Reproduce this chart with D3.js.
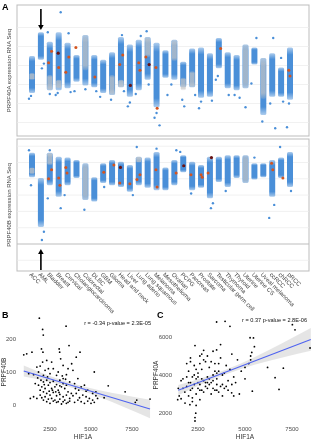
<!DOCTYPE html>
<html><head><meta charset="utf-8">
<script src="https://cdn.jsdelivr.net/npm/d3@7"></script>
<style>body{margin:0;background:#fff}svg{display:block;font-family:"Liberation Sans",Arial,sans-serif}</style>
</head><body><svg id="c" width="317" height="440"></svg>
<script>
// ---------- DATA ----------
const categories = ["ACC","AML","Bladder","Breast","Cervical","Cholangiocarcinoma","Colorectal","DLBC","GBM","Glioma","Head and neck","Liver","Lung adeno","Lung squamous","Melanoma","Mesothelioma","Ovarian","PCPG","Pancreas","Prostate","Sarcoma","Testicular germ cell","Thymoma","Thyroid","Uterine","Uterine CS","Uveal melanoma","ccRCC","chRCC","pRCC"];

// PRPF40A: dense range of tumour samples per cancer type [low, high]
const prpf40aRange = [[5.1,9.0],[8.6,11.5],[5.4,10.5],[5.4,11.5],[5.6,10.4],[6.3,9.1],[5.9,11.2],[5.7,9.1],[5.1,8.6],[4.9,9.4],[5.7,11.0],[4.7,10.2],[5.4,10.7],[6.5,11.0],[3.6,10.4],[6.7,9.6],[6.5,10.7],[5.7,8.4],[5.7,9.8],[4.6,9.9],[4.7,9.3],[7.7,10.9],[5.6,9.4],[5.4,9.1],[5.6,10.2],[8.1,9.9],[2.8,8.8],[4.7,9.3],[4.7,7.8],[4.4,9.9]];
// normal samples (grey) range
const prpf40aNormal = [[6.5,7.2],null,[5.4,7.0],[5.6,6.5],null,null,[7.5,11.2],null,null,[4.9,7.0],[5.7,6.5],null,null,[8.9,11.0],null,null,[8.5,10.7],[5.4,6.7],[5.7,7.4],null,null,null,null,null,[5.6,10.2],null,[4.5,8.8],null,null,null];
const prpf40aRed = [["Bladder",9.5],["Bladder",8.3],["Breast",7.8],["Cervical",8.9],["Cervical",7.3],["Cholangiocarcinoma",9.9],["DLBC",6.8],["Head and neck",9.1],["Head and neck",8.1],["Lung adeno",8.3],["Lung adeno",7.5],["Lung squamous",8.9],["Melanoma",7.8],["Melanoma",3.5],["Testicular germ cell",9.8],["pRCC",7.5],["pRCC",6.9]];
const prpf40aDark = [["Breast",9.3],["Liver",5.9],["Lung squamous",8.1]];
const prpf40aOut = [["ACC",4.5],["ACC",4.8],["AML",7.7],["AML",8.2],["Bladder",11.5],["Bladder",5.0],["Breast",13.6],["Breast",4.9],["Breast",5.1],["Cervical",11.4],["Cervical",5.2],["Cholangiocarcinoma",5.3],["Colorectal",5.5],["DLBC",5.3],["GBM",4.7],["Glioma",4.4],["Head and neck",11.2],["Head and neck",5.3],["Liver",3.7],["Liver",4.1],["Lung adeno",11.1],["Lung adeno",5.0],["Lung squamous",11.6],["Lung squamous",6.0],["Melanoma",1.7],["Melanoma",2.5],["Melanoma",3.0],["Mesothelioma",4.9],["Ovarian",6.0],["PCPG",4.4],["PCPG",3.7],["Pancreas",4.9],["Prostate",3.5],["Prostate",4.2],["Sarcoma",4.3],["Testicular germ cell",6.5],["Testicular germ cell",6.9],["Thymoma",4.9],["Thyroid",4.6],["Thyroid",4.9],["Uterine",3.6],["Uterine CS",10.9],["Uterine CS",6.1],["Uveal melanoma",2.1],["ccRCC",10.9],["ccRCC",1.4],["ccRCC",4.0],["chRCC",8.8],["chRCC",4.2],["pRCC",1.5],["pRCC",4.0]];

// PRPF40B
const prpf40bRange = [[8.2,11.2],[2.1,8.1],[7.2,11.2],[5.8,10.7],[7.2,10.6],[8.1,10.3],[5.4,9.9],[5.2,8.2],[7.5,9.9],[7.2,10.3],[7.0,10.1],[6.4,9.7],[7.2,10.7],[6.9,10.6],[6.6,11.3],[6.6,9.4],[7.2,10.3],[8.8,10.9],[6.6,10.1],[6.9,9.7],[5.6,10.7],[7.6,10.7],[7.0,10.9],[8.1,10.9],[7.5,10.9],[7.9,9.9],[8.2,9.9],[5.8,10.3],[8.1,10.6],[7.0,11.3]];
const prpf40bNormal = [[8.6,9.4],null,[9.7,11.2],null,null,null,[5.4,9.9],null,null,null,null,null,[10.0,10.7],null,null,null,null,null,null,null,null,null,null,null,[7.5,10.9],null,null,null,null,null];
const prpf40bRed = [["Bladder",9.1],["Bladder",8.0],["Breast",8.1],["Breast",7.2],["Cervical",9.4],["Cervical",8.7],["GBM",8.8],["Glioma",9.7],["Head and neck",7.5],["Liver",7.4],["Lung adeno",8.5],["Lung adeno",7.9],["Melanoma",9.1],["Melanoma",7.0],["Ovarian",8.7],["Pancreas",8.5],["Prostate",8.5],["Prostate",8.2],["Sarcoma",8.7],["ccRCC",9.9],["ccRCC",9.1],["chRCC",8.1]];
const prpf40bDark = [["Head and neck",9.4],["PCPG",9.6],["Sarcoma",10.6]];
const prpf40bOut = [["ACC",11.5],["ACC",7.2],["AML",0.5],["AML",1.5],["Bladder",5.6],["Bladder",11.5],["Breast",4.4],["Cervical",6.0],["Colorectal",4.2],["GBM",7.0],["Liver",6.0],["Lung adeno",11.9],["Melanoma",11.7],["Ovarian",11.5],["PCPG",11.3],["Pancreas",6.2],["Sarcoma",4.4],["Sarcoma",5.0],["Thymoma",6.5],["Uterine CS",10.6],["ccRCC",4.8],["ccRCC",3.2],["chRCC",11.9],["pRCC",6.5]];

const gridTop = [2,4,6,8,10,12];
const gridBottom = [-2,2,4,6,8,10,12];
const baseBottom = [0];

// Panel B: HIF1A vs PRPF40B
const scatterB = [[1850,263],[3480,239],[2050,229],[2090,212],[1980,170],[2070,160],[3660,180],[4330,160],[3060,170],[3090,160],[3150,140],[3300,120],[3820,125],[3900,105],[900,152],[1080,155],[1400,160],[2300,135],[2600,130],[2400,110],[1200,95],[1500,92],[1700,115],[1800,100],[1900,118],[2100,90],[2200,105],[2350,85],[2500,95],[2700,110],[2900,90],[3000,100],[3100,75],[3300,80],[3500,92],[3700,70],[4000,65],[4200,80],[4400,55],[4600,60],[4800,45],[5200,100],[5300,40],[5100,35],[1600,65],[1800,60],[2000,55],[2200,50],[2400,60],[2600,50],[2800,55],[3000,45],[3200,55],[3400,50],[3600,40],[3800,35],[2100,70],[2300,75],[2500,68],[2700,72],[2900,62],[3100,58],[3300,65],[3500,60],[1900,45],[2100,40],[2300,35],[2500,30],[2700,38],[2900,28],[3100,32],[3300,25],[3500,30],[3700,20],[3900,28],[4100,35],[4300,22],[4500,30],[4700,25],[4900,20],[5100,15],[5300,28],[1500,25],[1700,20],[1900,30],[2100,15],[2300,10],[2500,5],[2700,12],[2900,8],[3100,18],[3300,10],[3500,5],[3700,12],[4000,8],[4200,15],[4400,10],[4600,5],[4800,12],[1300,20],[2000,22],[2200,25],[2400,18],[2600,20],[2800,15],[3000,10],[3200,3],[3400,15],[3600,8],[5000,5],[5200,8],[5400,20],[6050,58],[7080,40],[7790,15],[8600,18],[7700,8],[5800,22],[4700,42],[2450,42],[2650,45],[2850,40],[3050,38],[1750,82],[1950,75],[2150,62],[3250,88],[3450,78],[4050,50],[4250,45],[2050,130],[3600,110],[4100,145]];
const fitB = [[900,103],[8600,-12]];
const bandB = [[900,86,120],[2500,70,88],[4000,50,64],[5500,24,45],[7000,-6,30],[8600,-40,16]];
const statB = "r = -0.34 p-value = 2.3E-05";

// Panel C: HIF1A vs PRPF40A
const scatterC = [[3490,6790],[3940,6825],[4200,6560],[7520,6650],[7660,6380],[5270,5960],[5450,5950],[8460,5420],[2340,5550],[3490,5320],[3300,5250],[2700,5100],[2600,5000],[5500,5490],[5360,5190],[4300,5100],[6600,3860],[7040,4360],[6810,3240],[5390,3150],[4290,3060],[4700,3000],[1420,2700],[1810,2520],[2070,2440],[2380,1990],[2340,1760],[2340,1580],[1450,3300],[1500,2900],[1700,3300],[1900,3900],[2000,4200],[2100,3600],[2200,3300],[2300,4500],[2400,3800],[2500,4100],[2600,3500],[2700,4300],[2800,3700],[2900,4700],[3000,3900],[3100,4400],[3200,3600],[3300,4000],[3400,4600],[3500,3800],[3600,4200],[3700,4900],[3800,3500],[3900,4100],[4000,4500],[4100,3700],[4200,4300],[4400,3900],[4600,4800],[4800,4200],[5000,3800],[5200,4600],[5300,5000],[1800,3100],[2000,2900],[2200,2800],[2400,3000],[2600,2700],[2800,3100],[3000,3300],[3200,3000],[3400,3200],[3600,3100],[1600,3700],[1900,4600],[2100,4900],[2300,4000],[2500,3600],[2700,3200],[2900,3400],[3100,3500],[3300,3300],[3500,3500],[3700,3400],[3900,3300],[4100,3200],[4300,3500],[2200,3900],[2400,4300],[2600,4600],[2800,4800],[3000,5000],[3200,4700],[3400,4200],[3600,4600],[3800,4000],[1900,3400],[2100,3200],[2300,3500],[2500,3300],[2700,3800],[2900,3600],[3100,3800],[3300,3700],[3500,4100],[1700,3800],[2000,3600],[2500,3900],[3000,3600],[3500,3200],[4000,3400],[4500,3600],[5000,4400],[5300,4800],[2200,2600],[2400,2400],[2600,3200],[3800,2900],[4400,2900],[2100,4700],[2800,5300],[3700,5600],[1600,2750],[6200,4400]];
const fitC = [[1450,3200],[8500,5870]];
const bandC = [[1450,2930,3470],[2500,3430,3770],[4000,4045,4285],[5500,4535,4935],[7000,4920,5680],[8500,5270,6470]];
const statC = "r = 0.37 p-value = 2.8E-06";

const xTicks = [2500,5000,7500];
const yTicksB = [0,100,200];
const yTicksC = [2000,4000,6000];

// ---------- DRAW ----------
const svg = d3.select("#c");
const BLUE = "#4a8fd8", GREY = "#c6c6c6", RED = "#d4541f", DARK = "#6a1212";
const defs = svg.append("defs");
function grad(id, color, lo){
  const g = defs.append("linearGradient").attr("id",id).attr("x1",0).attr("y1",0).attr("x2",0).attr("y2",1);
  [[0,lo],[0.14,1],[0.86,1],[1,lo]].forEach(([o,a])=>g.append("stop").attr("offset",o).attr("stop-color",color).attr("stop-opacity",a));
}
grad("gBlue", BLUE, 0.45); grad("gGrey", GREY, 0.3);
const gs = defs.append("filter").attr("id","gs").attr("x",0).attr("y",0).attr("width",1).attr("height",1);
gs.append("feColorMatrix").attr("type","saturate").attr("values",0);

const x = d3.scalePoint().domain(categories).range([32,290]);
const yTop = d3.scaleLinear().domain([2,12]).range([122.5,27.5]);
const yBot = d3.scaleLinear().domain([0,12]).range([244,146.2]);

const panels = [
  {y0:5, y1:136, y:yTop, range:prpf40aRange, normal:prpf40aNormal, red:prpf40aRed, dark:prpf40aDark, out:prpf40aOut, grid:gridTop, base:[], title:"PRPF40A expression RNA Seq"},
  {y0:139, y1:271, y:yBot, range:prpf40bRange, normal:prpf40bNormal, red:prpf40bRed, dark:prpf40bDark, out:prpf40bOut, grid:gridBottom, base:baseBottom, title:"PRPF40B expression RNA Seq"}
];
const L = 17, R = 309, W = 6;
const jit = i => ((i*37)%7) - 3;
const textLayer = svg.append("g").attr("filter","url(#gs)");

panels.forEach(p=>{
  const g = svg.append("g");
  g.append("rect").attr("x",L).attr("y",p.y0).attr("width",R-L).attr("height",p.y1-p.y0).attr("fill","#fff").attr("stroke","#bdbdbd").attr("stroke-width",1);
  g.selectAll(".grid").data(p.grid).join("line").attr("x1",L).attr("x2",R).attr("y1",d=>p.y(d)).attr("y2",d=>p.y(d)).attr("stroke","#ebebeb").attr("stroke-width",0.7);
  g.selectAll(".base").data(p.base).join("line").attr("x1",L).attr("x2",R).attr("y1",d=>p.y(d)).attr("y2",d=>p.y(d)).attr("stroke","#bdbdbd").attr("stroke-width",1);
  g.selectAll(".body").data(categories).join("rect")
    .attr("x",c=>x(c)-W/2).attr("width",W)
    .attr("y",(c,i)=>p.y(p.range[i][1])).attr("height",(c,i)=>p.y(p.range[i][0])-p.y(p.range[i][1]))
    .attr("rx",1.5).attr("fill","url(#gBlue)");
  const nrm = categories.map((c,i)=>[c,p.normal[i]]).filter(d=>d[1]);
  g.selectAll(".norm").data(nrm).join("rect")
    .attr("x",d=>x(d[0])-W/2+0.5).attr("width",W-1)
    .attr("y",d=>p.y(d[1][1])).attr("height",d=>p.y(d[1][0])-p.y(d[1][1]))
    .attr("rx",1.5).attr("fill","url(#gGrey)").attr("opacity",0.7);
  g.selectAll(".out").data(p.out).join("circle")
    .attr("cx",(d,i)=>x(d[0])+jit(i)).attr("cy",d=>p.y(d[1])).attr("r",1.2).attr("fill",BLUE);
  g.selectAll(".red").data(p.red).join("circle")
    .attr("cx",(d,i)=>x(d[0])+jit(i+3)*0.6).attr("cy",d=>p.y(d[1])).attr("r",1.5).attr("fill",RED);
  g.selectAll(".dark").data(p.dark).join("circle")
    .attr("cx",(d,i)=>x(d[0])+jit(i+1)*0.5).attr("cy",d=>p.y(d[1])).attr("r",1.6).attr("fill",DARK);
});
textLayer.raise();
panels.forEach(p=>{
  textLayer.append("text").attr("transform",`translate(11,${(p.y0+p.y1)/2}) rotate(-90)`)
    .attr("text-anchor","middle").attr("font-size",6).attr("fill","#444").text(p.title);
});

// arrows pointing at AML
function arrow(xc, yFrom, yTip){
  const dir = yTip > yFrom ? 1 : -1;
  svg.append("line").attr("x1",xc).attr("x2",xc).attr("y1",yFrom).attr("y2",yTip-dir*4).attr("stroke","#000").attr("stroke-width",1.6);
  svg.append("path").attr("d",`M${xc-2.8},${yTip-dir*5}L${xc+2.8},${yTip-dir*5}L${xc},${yTip}Z`).attr("fill","#000");
}
arrow(x("AML"), 9, 30);
arrow(x("AML"), 270, 249);

// category labels
textLayer.append("g").selectAll("text").data(categories).join("text")
  .attr("transform",c=>`translate(${x(c)-3},${275}) rotate(45)`)
  .attr("font-size",6).attr("fill","#444").text(c=>c);

textLayer.append("text").attr("x",2).attr("y",10).attr("font-size",9).attr("font-weight","bold").attr("fill","#000").text("A");

// scatter panels
function scatter(opt){
  const g = svg.append("g");
  const area = d3.area().x(d=>opt.x(d[0])).y0(d=>opt.y(d[1])).y1(d=>opt.y(d[2])).curve(d3.curveMonotoneX);
  g.append("path").datum(opt.band).attr("d",area).attr("fill","#d4d4d4").attr("opacity",0.6);
  g.selectAll("circle").data(opt.pts).join("circle").attr("cx",d=>opt.x(d[0])).attr("cy",d=>opt.y(d[1])).attr("r",0.9).attr("fill","#000");
  g.append("path").datum(opt.fit).attr("d",d3.line().x(d=>opt.x(d[0])).y(d=>opt.y(d[1]))).attr("stroke","#4f63f0").attr("stroke-width",1.1).attr("fill","none");
  const t = textLayer.append("g");
  t.selectAll(".yt").data(opt.yTicks).join("text").attr("x",opt.yLab).attr("y",d=>opt.y(d)).attr("dy","0.35em")
    .attr("text-anchor","end").attr("font-size",6).attr("fill","#4d4d4d").text(d=>d);
  t.selectAll(".xt").data(xTicks).join("text").attr("x",d=>opt.x(d)).attr("y",431)
    .attr("text-anchor","middle").attr("font-size",6).attr("fill","#4d4d4d").text(d=>d);
  t.append("text").attr("x",opt.xTitle).attr("y",439).attr("text-anchor","middle").attr("font-size",6.5).attr("fill","#333").text("HIF1A");
  t.append("text").attr("transform",`translate(${opt.yTitle},${opt.yMid}) rotate(-90)`).attr("text-anchor","middle").attr("font-size",6.5).attr("fill","#333").text(opt.ylabel);
  t.append("text").attr("x",opt.statX).attr("y",opt.statY).attr("text-anchor","end").attr("font-size",5.6).attr("fill","#111").text(opt.stat);
  t.append("text").attr("x",opt.letterX).attr("y",318).attr("font-size",9).attr("font-weight","bold").attr("fill","#000").text(opt.letter);
}
scatter({x:d3.scaleLinear().domain([2500,7500]).range([50,132]), y:d3.scaleLinear().domain([0,200]).range([405,339]),
  pts:scatterB, fit:fitB, band:bandB, yTicks:yTicksB, yLab:16, xTitle:83, yTitle:6, yMid:372, ylabel:"PRPF40B",
  stat:statB, statX:151, statY:325, letter:"B", letterX:2});
scatter({x:d3.scaleLinear().domain([2500,7500]).range([198,292]), y:d3.scaleLinear().domain([2000,6000]).range([413,337]),
  pts:scatterC, fit:fitC, band:bandC, yTicks:yTicksC, yLab:172, xTitle:245, yTitle:158, yMid:375, ylabel:"PRPF40A",
  stat:statC, statX:307, statY:322, letter:"C", letterX:157});
textLayer.raise();
</script></body></html>
